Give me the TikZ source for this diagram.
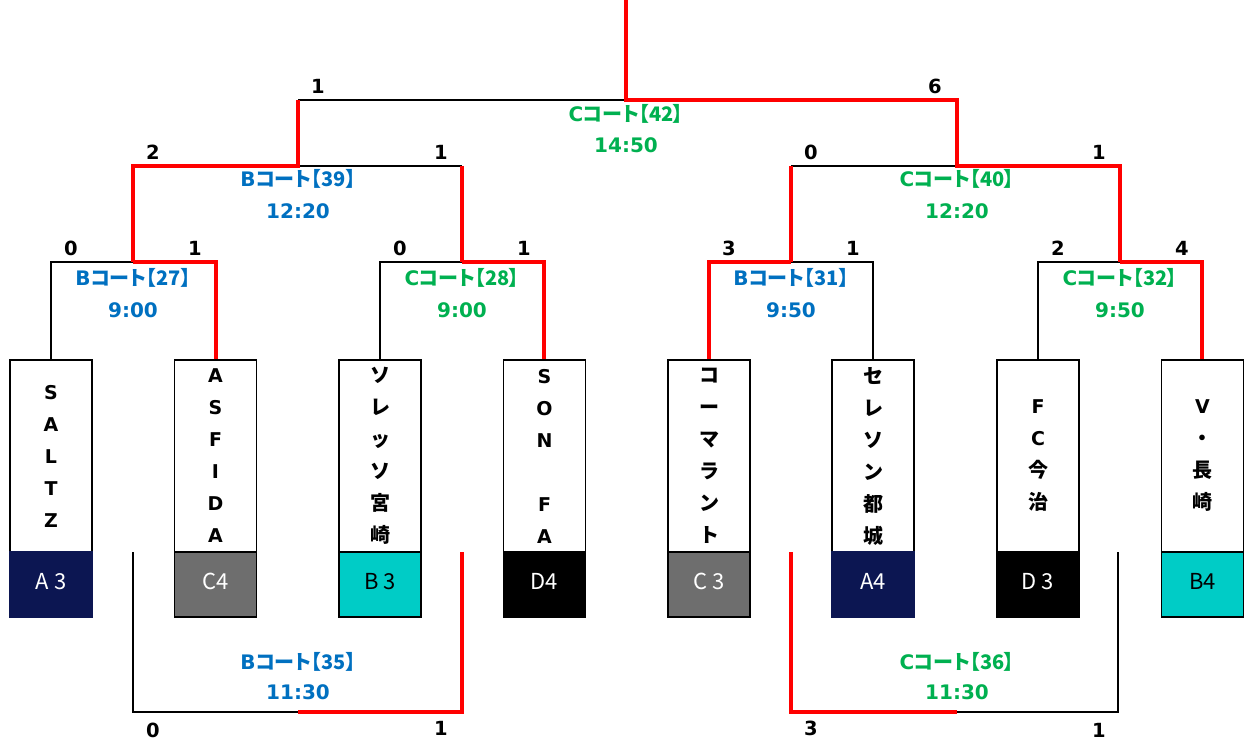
\documentclass[tikz,border=0pt]{standalone}
\usepackage{fontspec}
\setmainfont{DejaVu Sans}
\newfontfamily\jp{Noto Sans CJK JP}[RawFeature=+palt]
\newfontfamily\jpn{Noto Sans CJK JP}
\definecolor{bcourt}{HTML}{0070C0}
\definecolor{ccourt}{HTML}{00B050}
\definecolor{navy}{HTML}{0C1652}
\definecolor{dgray}{HTML}{6E6E6E}
\definecolor{teal2}{HTML}{00CCC6}
\definecolor{red2}{HTML}{FF0000}
\newcommand{\jc}[1]{{\jpn\fontsize{20}{32}\selectfont #1}}
\tikzset{
  team/.style={draw=black, line width=1.5pt, fill=white, minimum width=82pt, minimum height=192pt, inner sep=0pt, align=center, font=\bfseries\fontsize{19}{32}\selectfont},
  seed/.style={draw=black, line width=1.5pt, minimum width=82pt, minimum height=65pt, inner sep=0pt},
  seedtxt/.style={anchor=base, inner sep=0pt, font=\jpn\fontsize{22}{24}\selectfont},
  blk/.style={line width=1.5pt, black},
  win/.style={line width=4pt, red2},
  score/.style={anchor=base, font=\bfseries\fontsize{19.5}{20}\selectfont, inner sep=0pt},
  lab/.style={anchor=base, font=\bfseries\fontsize{20}{22}\selectfont, inner sep=0pt},
}
\begin{document}
\begin{tikzpicture}[x=1pt,y=-1pt]
\useasboundingbox (0,0) rectangle (1245,740);
% team boxes
\node[team] (t1) at (51,456) {S\\A\\L\\T\\Z};
\node[team] (t2) at (215.5,456) {A\\S\\F\\I\\D\\A};
\node[team] (t3) at (380,456) {\jc{ソ}\\\jc{レ}\\\jc{ッ}\\\jc{ソ}\\\jc{宮}\\\jc{崎}};
\node[team] (t4) at (544.5,456) {S\\O\\N\\~\\F\\A};
\node[team] (t5) at (709,456) {\jc{コ}\\\jc{ー}\\\jc{マ}\\\jc{ラ}\\\jc{ン}\\\jc{ト}};
\node[team] (t6) at (873,456) {\jc{セ}\\\jc{レ}\\\jc{ソ}\\\jc{ン}\\\jc{都}\\\jc{城}};
\node[team] (t7) at (1038,456) {F\\C\\\jc{今}\\\jc{治}};
\node[team] (t8) at (1202.5,456) {V\\\jc{・}\\\jc{長}\\\jc{崎}};
% seed boxes
\node[seed, fill=navy, draw=navy] (s1) at (51,584.5) {};
\node[seed, fill=dgray] (s2) at (215.5,584.5) {};
\node[seed, fill=teal2] (s3) at (380,584.5) {};
\node[seed, fill=black] (s4) at (544.5,584.5) {};
\node[seed, fill=dgray] (s5) at (709,584.5) {};
\node[seed, fill=navy, draw=navy] (s6) at (873,584.5) {};
\node[seed, fill=black] (s7) at (1038,584.5) {};
\node[seed, fill=teal2] (s8) at (1202.5,584.5) {};
\node[seedtxt, text=white] (q1) at (51,589) {A 3};
\node[seedtxt, text=white] (q2) at (215.5,589) {C4};
\node[seedtxt, text=black] (q3) at (380,589) {B 3};
\node[seedtxt, text=white] (q4) at (544.5,589) {D4};
\node[seedtxt, text=white] (q5) at (709,589) {C 3};
\node[seedtxt, text=white] (q6) at (873,589) {A4};
\node[seedtxt, text=white] (q7) at (1038,589) {D 3};
\node[seedtxt, text=black] (q8) at (1202.5,589) {B4};
% coordinates
\coordinate (a1) at (51,262); \coordinate (a2) at (216,262);
\coordinate (a3) at (380,262); \coordinate (a4) at (544,262);
\coordinate (a5) at (709,262); \coordinate (a6) at (873,262);
\coordinate (a7) at (1038,262); \coordinate (a8) at (1202,262);
\coordinate (j27) at (133,262); \coordinate (j28) at (462,262);
\coordinate (j31) at (791,262); \coordinate (j32) at (1120,262);
\coordinate (b27) at (133,166); \coordinate (b28) at (462,166);
\coordinate (b31) at (791,166); \coordinate (b32) at (1120,166);
\coordinate (j39) at (298,166); \coordinate (j40) at (957,166);
\coordinate (c39) at (298,100); \coordinate (c40) at (957,100);
\coordinate (j42) at (626,100); \coordinate (top) at (626,0);
\coordinate (e35L) at (133,552); \coordinate (f35L) at (133,712);
\coordinate (f35) at (298,712); \coordinate (f35R) at (462,712);
\coordinate (e35R) at (462,552);
\coordinate (e36L) at (791,552); \coordinate (f36L) at (791,712);
\coordinate (f36) at (957,712); \coordinate (f36R) at (1118,712);
\coordinate (e36R) at (1118,552);
% black lines
\draw[blk] (t1.north -| a1) -- (a1) -- (j27);
\draw[blk] (t3.north -| a3) -- (a3) -- (j28);
\draw[blk] (t6.north -| a6) -- (a6) -- (j31);
\draw[blk] (t7.north -| a7) -- (a7) -- (j32);
\draw[blk] (j39) -- (b28);
\draw[blk] (b31) -- (j40);
\draw[blk] (c39) -- (j42);
\draw[blk] (e35L) -- (f35L) -- (f35);
\draw[blk] (f36) -- (f36R) -- (e36R);
% winner lines
\draw[win] (t2.north -| a2) -- (a2) -- (j27);
\draw[win] (t4.north -| a4) -- (a4) -- (j28);
\draw[win] (t5.north -| a5) -- (a5) -- (j31);
\draw[win] (t8.north -| a8) -- (a8) -- (j32);
\draw[win] (j27) -- (b27) -- (j39) -- (c39);
\draw[win] (j28) -- (b28);
\draw[win] (j31) -- (b31);
\draw[win] (j32) -- (b32) -- (j40) -- (c40) -- (j42) -- (top);
\draw[win] (f35) -- (f35R) -- (e35R);
\draw[win] (e36L) -- (f36L) -- (f36);
% scores
\node[score] (sc1) at (71,255) {0};
\node[score] (sc2) at (195,255) {1};
\node[score] (sc3) at (400,255) {0};
\node[score] (sc4) at (524,255) {1};
\node[score] (sc5) at (729,255) {3};
\node[score] (sc6) at (853,255) {1};
\node[score] (sc7) at (1058,255) {2};
\node[score] (sc8) at (1182,255) {4};
\node[score] (sc9) at (153,159) {2};
\node[score] (sc10) at (441,159) {1};
\node[score] (sc11) at (811,159) {0};
\node[score] (sc12) at (1099,159) {1};
\node[score] (sc13) at (318,93) {1};
\node[score] (sc14) at (935,93) {6};
\node[score] (sc15) at (153,737) {0};
\node[score] (sc16) at (441,735) {1};
\node[score] (sc17) at (811,735) {3};
\node[score] (sc18) at (1099,737) {1};
% match labels
\node[lab, text=ccourt] (l42) at (626,121) {C{\jp コート【42】}};
\node[lab, text=ccourt] (k42) at (626,152) {14:50};
\node[lab, text=bcourt] (l39) at (298,186) {B{\jp コート【39】}};
\node[lab, text=bcourt] (k39) at (298,218) {12:20};
\node[lab, text=ccourt] (l40) at (957,186) {C{\jp コート【40】}};
\node[lab, text=ccourt] (k40) at (957,218) {12:20};
\node[lab, text=bcourt] (l27) at (133,285) {B{\jp コート【27】}};
\node[lab, text=bcourt] (k27) at (133,317) {9:00};
\node[lab, text=ccourt] (l28) at (462,285) {C{\jp コート【28】}};
\node[lab, text=ccourt] (k28) at (462,317) {9:00};
\node[lab, text=bcourt] (l31) at (791,285) {B{\jp コート【31】}};
\node[lab, text=bcourt] (k31) at (791,317) {9:50};
\node[lab, text=ccourt] (l32) at (1120,285) {C{\jp コート【32】}};
\node[lab, text=ccourt] (k32) at (1120,317) {9:50};
\node[lab, text=bcourt] (l35) at (298,669) {B{\jp コート【35】}};
\node[lab, text=bcourt] (k35) at (298,699) {11:30};
\node[lab, text=ccourt] (l36) at (957,669) {C{\jp コート【36】}};
\node[lab, text=ccourt] (k36) at (957,699) {11:30};
\end{tikzpicture}
\end{document}
